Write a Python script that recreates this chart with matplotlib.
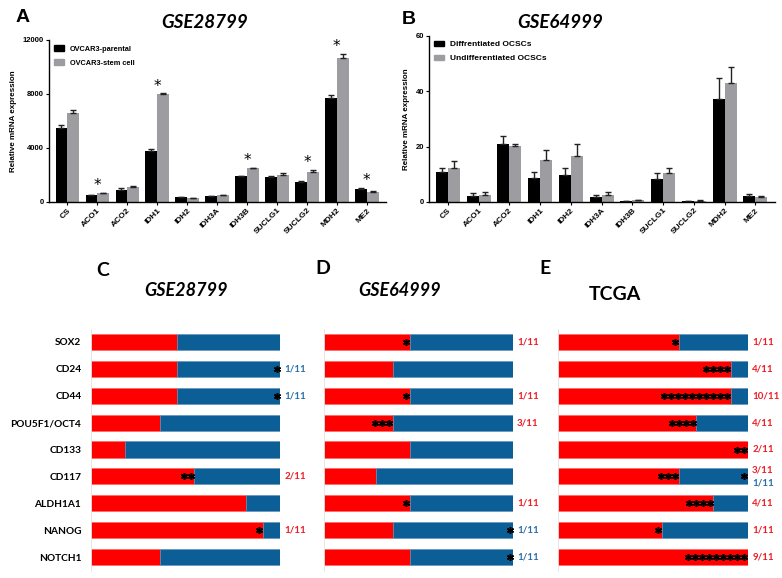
import matplotlib
matplotlib.use('Agg')
import matplotlib.pyplot as plt
import numpy as np
from matplotlib.patches import Patch

# ---------------- data ----------------
genes = ['CS', 'ACO1', 'ACO2', 'IDH1', 'IDH2', 'IDH3A', 'IDH3B', 'SUCLG1', 'SUCLG2', 'MDH2', 'ME2']

a_parental = [5500, 490, 920, 3800, 340, 420, 1900, 1860, 1460, 7680, 990]
a_parental_err = [230, 30, 90, 100, 30, 30, 50, 40, 60, 280, 30]
a_stem = [6580, 640, 1080, 7990, 260, 510, 2500, 2030, 2230, 10700, 750]
a_stem_err = [260, 30, 120, 60, 30, 30, 30, 100, 150, 280, 40]
a_sig = [0, 1, 0, 1, 0, 0, 1, 0, 1, 1, 1]

b_diff = [10.9, 2.3, 21.1, 8.6, 9.9, 1.9, 0.36, 8.3, 0.3, 37.1, 2.2]
b_diff_err = [1.3, 1.0, 2.8, 2.4, 2.5, 0.8, 0.1, 2.0, 0.1, 7.5, 0.8]
b_undiff = [12.1, 2.4, 20.1, 15.0, 16.6, 2.6, 0.6, 10.6, 0.5, 43.1, 1.7]
b_undiff_err = [2.7, 1.2, 1.0, 3.8, 4.4, 1.0, 0.15, 1.8, 0.1, 5.5, 0.6]

markers = ['SOX2', 'CD24', 'CD44', 'POU5F1/OCT4', 'CD133', 'CD117', 'ALDH1A1', 'NANOG', 'NOTCH1']
total = 11
c_red = [5, 5, 5, 4, 2, 6, 9, 10, 4]
c_red_stars = [0, 0, 0, 0, 0, 2, 0, 1, 0]
c_blue_stars = [0, 1, 1, 0, 0, 0, 0, 0, 0]
d_red = [5, 4, 5, 4, 5, 3, 5, 4, 5]
d_red_stars = [1, 0, 1, 3, 0, 0, 1, 0, 0]
d_blue_stars = [0, 0, 0, 0, 0, 0, 0, 1, 1]
e_red = [7, 10, 10, 8, 11, 7, 9, 6, 11]
e_red_stars = [1, 4, 10, 4, 2, 3, 4, 1, 9]
e_blue_stars = [0, 0, 0, 0, 0, 1, 0, 0, 0]

# ---------------- figure ----------------
W, H = 782, 578
fig = plt.figure(figsize=(W / 100, H / 100), dpi=100)
fig.patch.set_facecolor('white')

def ax_px(l, t, r, b):
    return fig.add_axes([l / W, 1 - b / H, (r - l) / W, (b - t) / H])

def ftext(x, y, s, **kw):
    fig.text(x / W, 1 - y / H, s, **kw)

ARIAL = 'Liberation Sans'
CAL = 'Lato'
GREY = '#9d9da1'
RED = '#ff0000'
BLUE = '#0b5f96'
RED_T = '#ee1c24'
BLUE_T = '#2a6ea6'


def bar_panel(ax, v1, e1, v2, e2, ymax, yticks, labels, sig=None):
    n = len(genes)
    x = np.arange(n)
    w = 0.39
    ekw = dict(ecolor='#222222', elinewidth=1.0, capsize=2.2, capthick=1.0)
    ax.bar(x - w / 2, v1, w, color='black', yerr=[np.zeros(n), e1], error_kw=ekw, label=labels[0])
    ax.bar(x + w / 2, v2, w, color=GREY, yerr=[np.zeros(n), e2], error_kw=ekw, label=labels[1])
    ax.set_xlim(-0.61, n - 1 + 0.64)
    ax.set_ylim(0, ymax)
    ax.set_yticks(yticks)
    ax.set_yticklabels([str(t) for t in yticks], fontsize=5.5, fontweight='bold', family=ARIAL)
    ax.set_xticks(x)
    ax.set_xticklabels(genes, rotation=45, ha='right', rotation_mode='anchor',
                       fontsize=6, fontweight='bold', family=ARIAL)
    for s in ['top', 'right']:
        ax.spines[s].set_visible(False)
    for s in ['left', 'bottom']:
        ax.spines[s].set_linewidth(1.0)
    ax.tick_params(axis='both', length=2, width=0.8, pad=1.5)
    ax.set_ylabel('Relative mRNA expression', fontsize=5.8, fontweight='bold', family=ARIAL, labelpad=4)
    if sig is not None:
        for i in range(n):
            if sig[i]:
                top = max(v1[i] + e1[i], v2[i] + e2[i])
                ax.text(i, top + ymax * 0.045, '*', ha='center', va='center', fontsize=11,
                        family='DejaVu Sans')
    ax.legend(handles=[Patch(color='black'), Patch(color=GREY)], labels=labels,
              loc='upper left', bbox_to_anchor=(0.0, 1.0), frameon=False,
              prop=dict(family=ARIAL, weight='bold', size=5.3),
              handlelength=1.3, handleheight=0.8, handletextpad=0.8, labelspacing=0.9,
              borderaxespad=0.3)


axA = ax_px(49, 40, 386, 202)
bar_panel(axA, a_parental, a_parental_err, a_stem, a_stem_err, 12000, [0, 4000, 8000, 12000],
          ['OVCAR3-parental', 'OVCAR3-stem cell'], sig=a_sig)

axB = ax_px(429, 35.7, 775, 202)
bar_panel(axB, b_diff, b_diff_err, b_undiff, b_undiff_err, 60, [0, 20, 40, 60],
          ['Diffrentiated OCSCs', 'Undifferentiated OCSCs'])
for t in axB.get_legend().get_texts():
    t.set_fontsize(6)

# titles top
ftext(23, 18, 'A', fontsize=14, fontweight='bold', family=ARIAL, ha='center', va='center')
ftext(205, 23, 'GSE28799', fontsize=13.5, fontweight='bold', style='italic', family=CAL, ha='center', va='center')
ftext(409, 20, 'B', fontsize=14, fontweight='bold', family=ARIAL, ha='center', va='center')
ftext(560, 23, 'GSE64999', fontsize=13.5, fontweight='bold', style='italic', family=CAL, ha='center', va='center')


def strip_panel(ax, red, rstars, bstars, show_labels):
    n = len(markers)
    y = np.arange(n)
    frac = np.array(red) / total
    h = 0.6
    ax.barh(y, frac, h, color=RED, edgecolor='#ff6060', linewidth=0.4)
    ax.barh(y, 1 - frac, h, left=frac, color=BLUE, edgecolor='#5b8fb8', linewidth=0.4)
    step = 0.037
    for i in range(n):
        for k in range(rstars[i]):
            ax.plot(frac[i] - (k + 0.5) * step, y[i], marker=(6, 2, 0), ms=5, mew=1.1,
                    color='black', clip_on=False)
        for k in range(bstars[i]):
            ax.plot(1 - (k + 0.5) * step, y[i], marker=(6, 2, 0), ms=5, mew=1.1,
                    color='black', clip_on=False)
        both = rstars[i] > 0 and bstars[i] > 0
        if rstars[i] > 0:
            ax.text(1.022, y[i] - (0.22 if both else 0), f'{rstars[i]}/{total}', color=RED_T,
                    fontsize=7, fontweight='bold', family=CAL, ha='left', va='center')
        if bstars[i] > 0:
            ax.text(1.022, y[i] + (0.25 if both else 0), f'{bstars[i]}/{total}', color=BLUE_T,
                    fontsize=7, fontweight='bold', family=CAL, ha='left', va='center')
    ax.set_xlim(0, 1)
    ax.set_ylim(n - 0.5, -0.5)
    ax.set_xticks([])
    ax.set_yticks(y)
    if show_labels:
        ax.set_yticklabels(markers, fontsize=7.3, fontweight='bold', family=CAL)
    else:
        ax.set_yticklabels([])
    ax.tick_params(axis='y', length=0, pad=7)
    for s in ['top', 'right', 'bottom']:
        ax.spines[s].set_visible(False)
    ax.spines['left'].set_color('#e2e2e2')
    ax.spines['left'].set_linewidth(0.6)


axC = ax_px(91, 328.5, 280, 570.5)
strip_panel(axC, c_red, c_red_stars, c_blue_stars, True)
axD = ax_px(324, 328.5, 513, 570.5)
strip_panel(axD, d_red, d_red_stars, d_blue_stars, False)
axE = ax_px(558, 328.5, 748, 570.5)
strip_panel(axE, e_red, e_red_stars, e_blue_stars, False)

ftext(103, 270, 'C', fontsize=14, fontweight='bold', family=CAL, ha='center', va='center')
ftext(186, 290, 'GSE28799', fontsize=13, fontweight='bold', style='italic', family=CAL, ha='center', va='center')
ftext(323, 268, 'D', fontsize=14, fontweight='bold', family=CAL, ha='center', va='center')
ftext(400, 290, 'GSE64999', fontsize=13, fontweight='bold', style='italic', family=CAL, ha='center', va='center')
ftext(545, 268, 'E', fontsize=14, fontweight='bold', family=CAL, ha='center', va='center')
ftext(615, 295, 'TCGA', fontsize=14, fontweight='bold', family=CAL, ha='center', va='center')

fig.savefig('out.png', dpi=100)
